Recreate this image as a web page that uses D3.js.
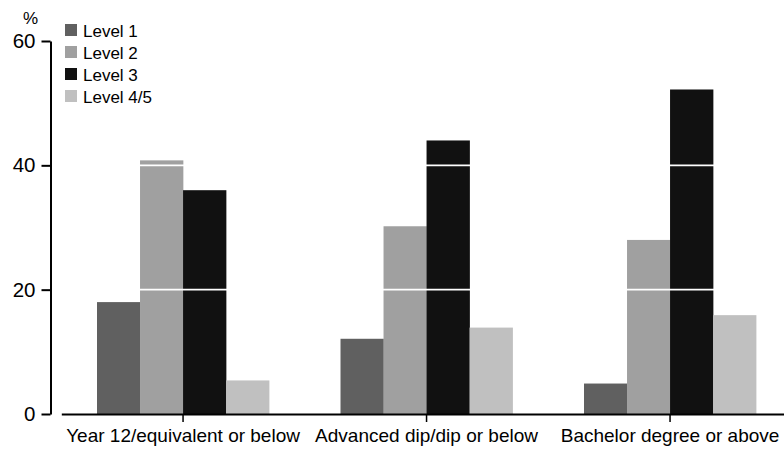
<!DOCTYPE html>
<html>
<head>
<meta charset="utf-8">
<script src="https://cdn.jsdelivr.net/npm/d3@7"></script>
<style>
  html, body { margin: 0; padding: 0; background: #fff; }
  svg { display: block; font-family: "Liberation Sans", Arial, sans-serif; }
</style>
</head>
<body>
<svg id="chart" width="784" height="450"></svg>
<script>
// Proficiency level by highest educational attainment (%)
const categories = ["Year 12/equivalent or below", "Advanced dip/dip or below", "Bachelor degree or above"];
const seriesNames = ["Level 1", "Level 2", "Level 3", "Level 4/5"];
const level1 = [18, 12.1, 4.9];
const level2 = [40.8, 30.2, 28];
const level3 = [36, 44, 52.2];
const level45 = [5.4, 13.9, 15.9];
const seriesValues = [level1, level2, level3, level45];
const seriesColors = ["#606060", "#a0a0a0", "#111111", "#c0c0c0"];
const yTicks = [0, 20, 40, 60];

const svg = d3.select("#chart");

const x0 = d3.scaleBand().domain(categories).range([61.3, 791.8]).padding(0);
const x1 = d3.scaleBand().domain(seriesNames).range([0, x0.bandwidth()])
  .paddingInner(0).paddingOuter(0.83);
const y = d3.scaleLinear().domain([0, 60]).range([414, 41]);

// Bars
const groups = svg.append("g").selectAll("g")
  .data(categories)
  .join("g")
  .attr("transform", d => `translate(${x0(d)},0)`);

groups.selectAll("rect")
  .data((c, ci) => seriesNames.map((s, si) => ({ s, si, v: seriesValues[si][ci] })))
  .join("rect")
  .attr("x", d => x1(d.s))
  .attr("width", x1.bandwidth() + 0.3)
  .attr("y", d => y(d.v))
  .attr("height", d => y(0) - y(d.v))
  .attr("fill", d => seriesColors[d.si]);

// White gridlines over the bars
svg.append("g").selectAll("line")
  .data(yTicks.filter(t => t > 0))
  .join("line")
  .attr("x1", 52).attr("x2", 784)
  .attr("y1", d => y(d)).attr("y2", d => y(d))
  .attr("stroke", "#fff").attr("stroke-width", 1.6);

// Y axis
const yAxis = svg.append("g")
  .attr("transform", "translate(50.5,0)")
  .call(d3.axisLeft(y).tickValues(yTicks).tickSize(9).tickSizeOuter(0).tickPadding(6));
yAxis.select(".domain").attr("stroke", "#000").attr("stroke-width", 2);
yAxis.selectAll(".tick line").attr("stroke", "#000").attr("stroke-width", 2);
yAxis.selectAll(".tick text")
  .attr("font-size", 20.5).attr("fill", "#000")
  .attr("font-family", "'Liberation Sans', Arial, sans-serif");

// X axis
const xAxis = svg.append("g")
  .attr("transform", "translate(0,414)")
  .call(d3.axisBottom(x0).tickSize(8).tickSizeOuter(0).tickPadding(7));
xAxis.select(".domain").attr("stroke", "#000").attr("stroke-width", 2);
xAxis.selectAll(".tick line").attr("stroke", "#000").attr("stroke-width", 1.5);
xAxis.selectAll(".tick text")
  .attr("font-size", 19).attr("fill", "#000")
  .attr("font-family", "'Liberation Sans', Arial, sans-serif");

// Unit label
svg.append("text")
  .attr("x", 30.5).attr("y", 24)
  .attr("text-anchor", "middle")
  .attr("font-size", 17)
  .text("%");

// Legend
const legend = svg.append("g").selectAll("g")
  .data(seriesNames)
  .join("g")
  .attr("transform", (d, i) => `translate(65,${24 + i * 22})`);
legend.append("rect")
  .attr("width", 12).attr("height", 12)
  .attr("fill", (d, i) => seriesColors[i]);
legend.append("text")
  .attr("x", 18).attr("y", 12.5)
  .attr("font-size", 17)
  .text(d => d);
</script>
</body>
</html>
